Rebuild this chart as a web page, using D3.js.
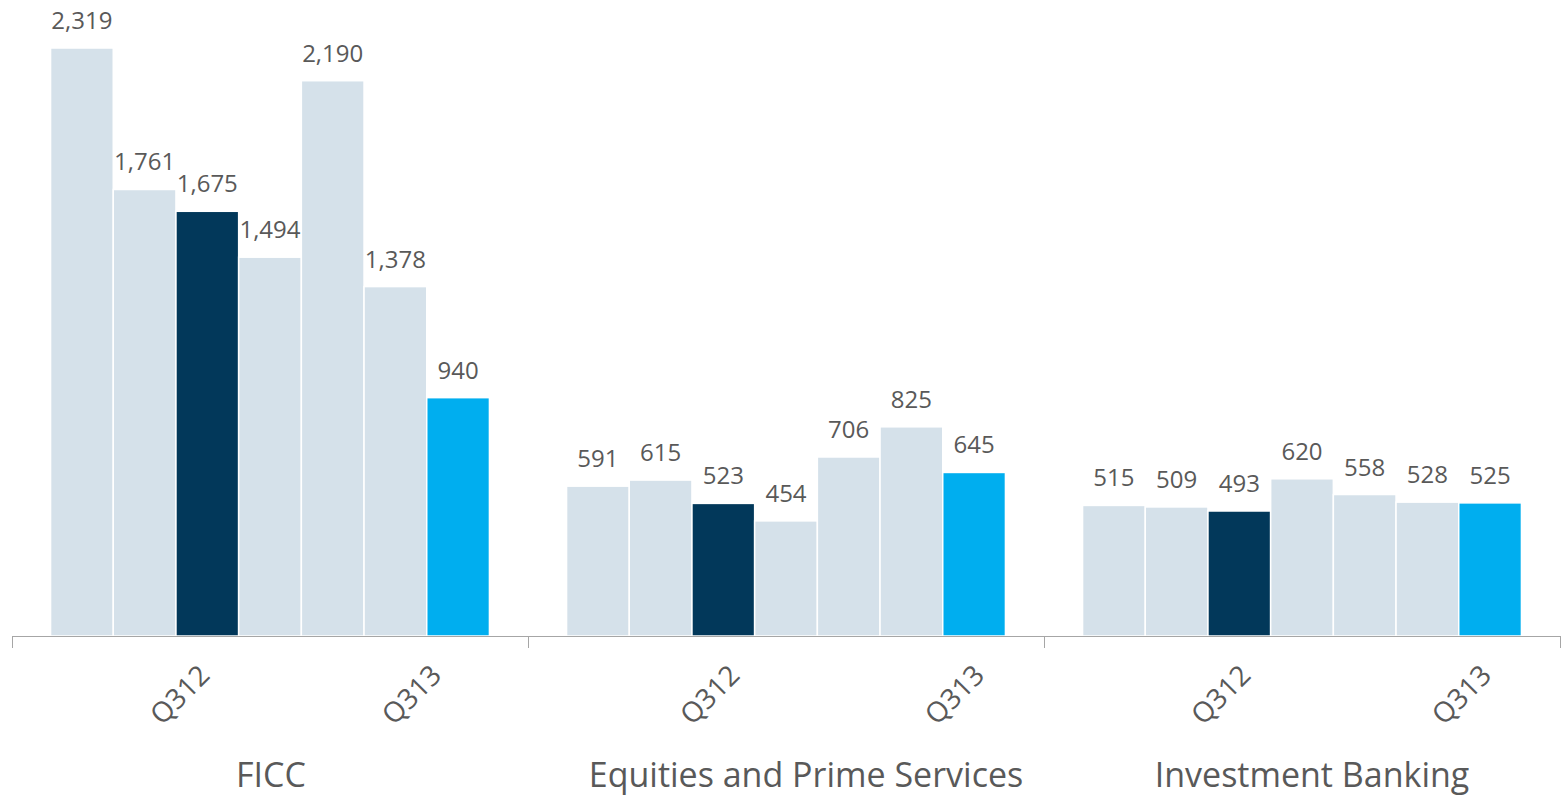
<!DOCTYPE html>
<html>
<head>
<meta charset="utf-8">
<title>Revenue by business</title>
<script src="https://cdn.jsdelivr.net/npm/d3@7"></script>
<style>
  html, body { margin: 0; background: #fff; }
  svg text { font-family: "Open Sans", "Noto Sans", sans-serif; fill: #595959; }
  .axis path, .axis line { stroke: #a6a6a6; shape-rendering: crispEdges; }
</style>
</head>
<body>
<svg width="1567" height="796"></svg>
<script>
// data
var groups = ["FICC", "Equities and Prime Services", "Investment Banking"];
var quarters = ["Q112", "Q212", "Q312", "Q412", "Q113", "Q213", "Q313"];
var tickQuarters = ["Q312", "Q313"];
var ficc = [2319, 1761, 1675, 1494, 2190, 1378, 940];
var equities = [591, 615, 523, 454, 706, 825, 645];
var banking = [515, 509, 493, 620, 558, 528, 525];

var series = [ficc, equities, banking];
var fmt = d3.format(",");

// small per-group nudges, the original labels don't sit exactly on the bars
var tickNudge = [[4, -15], [18, 12], [13, 3]];
var titleNudge = [1, 20, 10];

var svg = d3.select("svg");
var baseY = 636;

var x0 = d3.scaleBand().domain(groups).range([12, 1560]);
var x1 = d3.scaleBand().domain(quarters).range([0, x0.bandwidth()])
    .paddingInner(0).paddingOuter(0.615);
var y = d3.scaleLinear().domain([0, 2319]).range([baseY, 48]);

function barColor(q) {
  if (q == "Q312") return "#02385a";
  if (q == "Q313") return "#00aeef";
  return "#d5e1ea";
}

groups.forEach(function(gname, gi) {
  var rows = quarters.map(function(q, i) { return {q: q, v: series[gi][i]}; });
  var g = svg.append("g").attr("transform", "translate(" + x0(gname) + ",0)");

  g.selectAll("rect")
    .data(rows)
    .enter().append("rect")
    .attr("x", function(d) { return x1(d.q); })
    .attr("y", function(d) { return y(d.v); })
    .attr("width", x1.bandwidth())
    .attr("height", function(d) { return baseY - y(d.v); })
    .attr("fill", function(d) { return barColor(d.q); })
    .attr("stroke", "#fff")
    .attr("stroke-width", 1.5);

  g.selectAll(".val")
    .data(rows)
    .enter().append("text")
    .attr("class", "val")
    .attr("x", function(d) { return x1(d.q) + x1.bandwidth() / 2; })
    .attr("y", function(d) { return y(d.v) - 19; })
    .attr("text-anchor", "middle")
    .style("font-size", "24px")
    .text(function(d) { return fmt(d.v); });

  // rotated quarter labels
  g.selectAll(".qlab")
    .data(tickQuarters)
    .enter().append("text")
    .attr("class", "qlab")
    .attr("text-anchor", "end")
    .style("font-size", "28px")
    .attr("transform", function(q, i) {
      var cx = x1(q) + x1.bandwidth() / 2 + tickNudge[gi][i];
      return "translate(" + cx + ",677) rotate(-45)";
    })
    .text(function(q) { return q; });

  g.append("text")
    .attr("x", x0.bandwidth() / 2 + titleNudge[gi])
    .attr("y", 787)
    .attr("text-anchor", "middle")
    .style("font-size", "34px")
    .text(gname);
});

// baseline with group separator ticks
var axis = svg.append("g").attr("class", "axis");
axis.append("line")
  .attr("x1", x0.range()[0]).attr("x2", x0.range()[1])
  .attr("y1", baseY).attr("y2", baseY);
var edges = groups.map(function(gn) { return x0(gn); }).concat([x0.range()[1]]);
axis.selectAll(".sep")
  .data(edges)
  .enter().append("line")
  .attr("class", "sep")
  .attr("x1", function(d) { return d; }).attr("x2", function(d) { return d; })
  .attr("y1", baseY).attr("y2", baseY + 12);
</script>
</body>
</html>
